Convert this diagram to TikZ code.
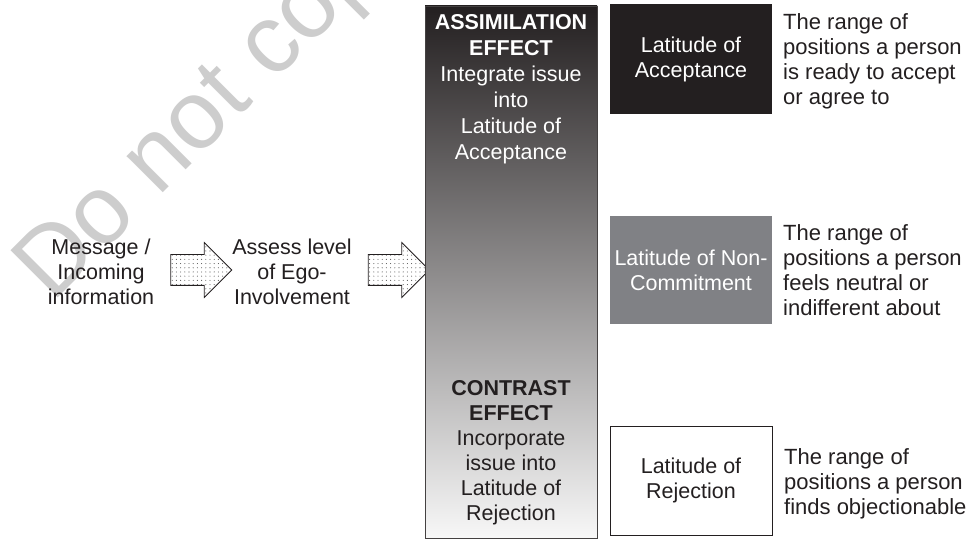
\documentclass[tikz,border=0pt]{standalone}
\usepackage{fontspec}
\setmainfont{Liberation Sans}
\usetikzlibrary{shapes.arrows,patterns.meta}
\definecolor{ink}{RGB}{35,31,32}
\definecolor{midgray}{RGB}{128,129,133}
\definecolor{wmgray}{RGB}{205,205,205}
\definecolor{shademid}{RGB}{146,147,151}
\begin{document}
\begin{tikzpicture}[x=1pt,y=1pt,
  base/.style={font=\fontsize{21.5}{25}\selectfont, inner sep=0pt},
  txt/.style={base, align=center, text=ink},
  desc/.style={font=\fontsize{22}{25}\selectfont, inner sep=0pt, align=left, anchor=west, text=ink},
  lat/.style={base, align=center, minimum width=162pt},
  blockarrow/.style={single arrow, draw=ink, line width=0.8pt, inner sep=0pt,
    text height=15pt, text depth=15pt, single arrow head extend=12pt,
    minimum height=61pt, pattern={Dots[distance=4.2pt,radius=0.55pt]},
    pattern color=black!65}
]
\useasboundingbox (0,0) rectangle (967,545);
% watermark
\node[text=wmgray, font=\fontsize{97}{97}\selectfont, rotate=45, anchor=base west, inner sep=0pt] (wmk) at (52,241) {Do not copy};

% left texts
\node[txt] (msg) at (101,273) {Message /\\Incoming\\information};
\node[txt] (ego) at (292,273) {Assess level\\of Ego-\\Involvement};
\node[blockarrow] (a1) at (193.5,275) {};
\node[blockarrow] (a2) at (391,275) {};

% effect column
\node[draw=ink!85, line width=0.8pt, minimum width=172pt, minimum height=532pt, inner sep=0pt,
  top color=ink, middle color=shademid, bottom color=white!97!black] (eff) at (511,273) {};
\node[txt, text=white, anchor=north, font=\fontsize{21.5}{26}\selectfont] (assim) at (511,531)
  {\textbf{ASSIMILATION}\\\textbf{EFFECT}\\Integrate issue\\into\\Latitude of\\Acceptance};
\node[txt, anchor=north] (contr) at (511,165)
  {\textbf{CONTRAST}\\\textbf{EFFECT}\\Incorporate\\issue into\\Latitude of\\Rejection};

% latitude boxes
\node[lat, fill=ink, text=white, minimum height=110pt] (acc) at (691,486) {Latitude of\\Acceptance};
\node[lat, fill=midgray, text=white, minimum height=108pt] (non) at (691,275) {Latitude of Non-\\Commitment};
\node[lat, draw=ink, line width=0.8pt, fill=white, text=ink, minimum height=109pt] (rej) at (691,64.5) {Latitude of\\Rejection};

% descriptions
\node[desc] (dacc) at (783,484) {The range of\\positions a person\\is ready to accept\\or agree to};
\node[desc] (dnon) at (783,275) {The range of\\positions a person\\feels neutral or\\indifferent about};
\node[desc] (drej) at (784,61) {The range of\\positions a person\\finds objectionable};
\end{tikzpicture}
\end{document}
